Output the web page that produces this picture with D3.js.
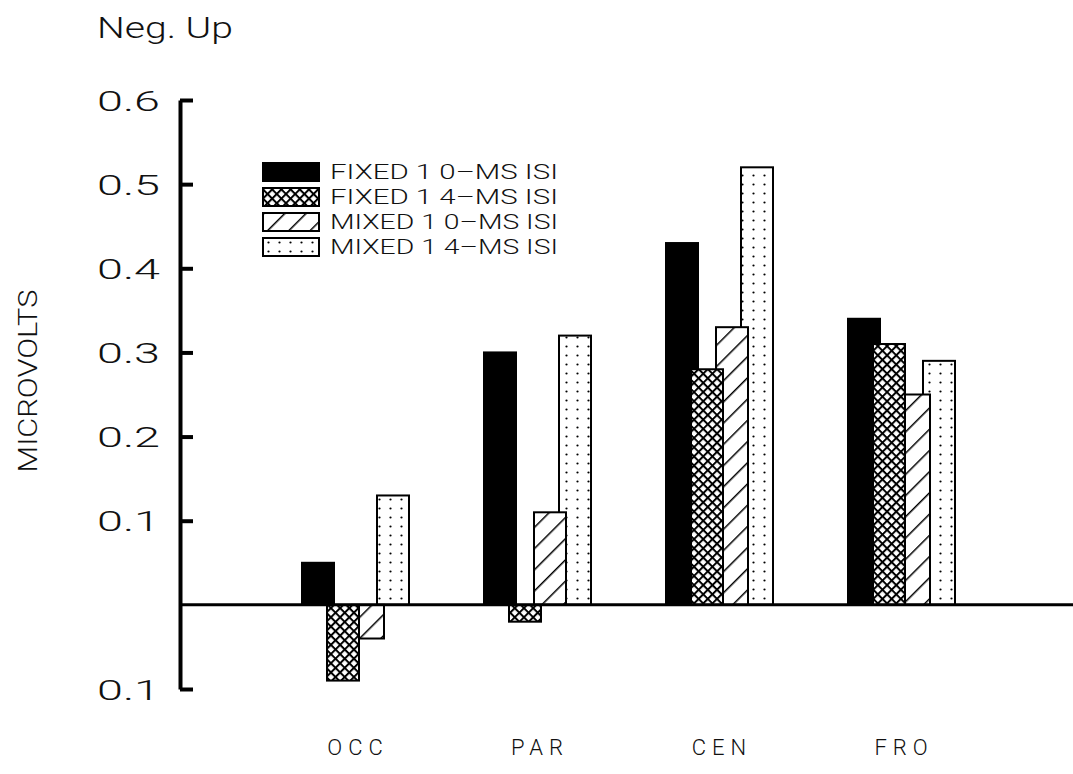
<!DOCTYPE html>
<html>
<head>
<meta charset="utf-8">
<script src="https://cdn.jsdelivr.net/npm/d3@7"></script>
<style>
  body { margin: 0; background: #fff; }
  svg text { font-family: Roboto, "Liberation Sans", Arial, sans-serif; font-weight: 300; fill: #111; }
  .yaxis path, .yaxis line { stroke-width: 4px; }
</style>
</head>
<body>
<div id="chart"></div>
<script>
// data
var categories = ["OCC", "PAR", "CEN", "FRO"];
var seriesNames = ["FIXED 1 0\u2013MS ISI", "FIXED 1 4\u2013MS ISI", "MIXED 1 0\u2013MS ISI", "MIXED 1 4\u2013MS ISI"];
var fixed10 = [0.05, 0.30, 0.43, 0.34];
var fixed14 = [-0.09, -0.02, 0.28, 0.31];
var mixed10 = [-0.04, 0.11, 0.33, 0.25];
var mixed14 = [0.13, 0.32, 0.52, 0.29];
var yTicks = [-0.1, 0.1, 0.2, 0.3, 0.4, 0.5, 0.6];
var yTickLabels = ["0.1", "0.1", "0.2", "0.3", "0.4", "0.5", "0.6"];

var width = 1073, height = 774;
var series = [fixed10, fixed14, mixed10, mixed14];
var fills = ["#000", "url(#xhatch)", "url(#hatch)", "url(#dots)"];

var svg = d3.select("#chart").append("svg")
  .attr("width", width)
  .attr("height", height);

// patterns
var defs = svg.append("defs");
var px = defs.append("pattern").attr("id", "xhatch")
  .attr("patternUnits", "userSpaceOnUse")
  .attr("width", 6.5).attr("height", 6.5)
  .attr("patternTransform", "rotate(45)");
px.append("rect").attr("width", 6.5).attr("height", 6.5).attr("fill", "#fff");
px.append("rect").attr("width", 6.5).attr("height", 2).attr("fill", "#000");
px.append("rect").attr("width", 2).attr("height", 6.5).attr("fill", "#000");

var ph = defs.append("pattern").attr("id", "hatch")
  .attr("patternUnits", "userSpaceOnUse")
  .attr("width", 15).attr("height", 15)
  .attr("patternTransform", "rotate(45)");
ph.append("rect").attr("width", 15).attr("height", 15).attr("fill", "#fff");
ph.append("rect").attr("width", 1.5).attr("height", 15).attr("fill", "#000");

var pd = defs.append("pattern").attr("id", "dots")
  .attr("patternUnits", "userSpaceOnUse")
  .attr("width", 11).attr("height", 9);
pd.append("rect").attr("width", 11).attr("height", 9).attr("fill", "#fff");
pd.append("circle").attr("cx", 5.5).attr("cy", 4.5).attr("r", 1.1).attr("fill", "#000");

// scales
var y = d3.scaleLinear().domain([-0.1, 0.6]).range([689, 100]);
var x = d3.scaleBand().domain(categories).range([264, 992]);
var inner = d3.scaleBand().domain(d3.range(series.length)).range([-53, 47]);
var barW = inner.bandwidth() + 7;

// bars (crosshatch ends up on top, as in the print)
var order = [3, 2, 0, 1];
order.forEach(function (s) {
  svg.append("g").selectAll("rect")
    .data(series[s])
    .enter().append("rect")
    .attr("x", function (d, i) { return x(categories[i]) + x.bandwidth() / 2 + inner(s); })
    .attr("y", function (d) { return y(Math.max(0, d)); })
    .attr("width", barW)
    .attr("height", function (d) { return Math.abs(y(d) - y(0)); })
    .attr("fill", fills[s])
    .attr("stroke", "#000")
    .attr("stroke-width", 2);
});

// zero line
svg.append("line")
  .attr("x1", 180).attr("x2", width)
  .attr("y1", y(0)).attr("y2", y(0))
  .attr("stroke", "#000").attr("stroke-width", 3);

// y axis, ticks pointing right
var yAxis = d3.axisLeft(y)
  .tickValues(yTicks)
  .tickSizeInner(-13)
  .tickSizeOuter(0)
  .tickPadding(20)
  .tickFormat(function (d, i) { return yTickLabels[i]; });

var ga = svg.append("g").attr("class", "yaxis").attr("transform", "translate(180,0)").call(yAxis);
ga.selectAll(".tick text")
  .style("font-size", "28px")
  .style("font-family", "Roboto, 'Liberation Sans', Arial, sans-serif")
  .style("font-weight", 300)
  .attr("fill", function (d) { return d < 0 ? "#888" : "#111"; })
  .attr("textLength", 63)
  .attr("lengthAdjust", "spacingAndGlyphs")
  .attr("dy", "0.36em");

// category labels
svg.append("g").selectAll("text")
  .data(categories)
  .enter().append("text")
  .attr("x", function (d) { return x(d) + x.bandwidth() / 2 + 3; })
  .attr("y", 755)
  .attr("text-anchor", "middle")
  .attr("font-size", 22)
  .attr("letter-spacing", 6)
  .attr("fill", "#333")
  .text(function (d) { return d; });

// titles
svg.append("text")
  .attr("x", 97).attr("y", 38)
  .attr("font-size", 29)
  .attr("textLength", 136)
  .attr("lengthAdjust", "spacingAndGlyphs")
  .attr("fill", "#333")
  .text("Neg. Up");

svg.append("text")
  .attr("transform", "translate(37,381) rotate(-90)")
  .attr("text-anchor", "middle")
  .attr("font-size", 26)
  .attr("textLength", 183)
  .attr("lengthAdjust", "spacingAndGlyphs")
  .attr("fill", "#222")
  .text("MICROVOLTS");

// legend
var legend = svg.append("g").attr("transform", "translate(263,163)");
var rows = legend.selectAll("g")
  .data(seriesNames)
  .enter().append("g")
  .attr("transform", function (d, i) { return "translate(0," + (i * 25) + ")"; });
rows.append("rect")
  .attr("width", 56).attr("height", 18)
  .attr("fill", function (d, i) { return fills[i]; })
  .attr("stroke", "#000").attr("stroke-width", 2);
rows.append("text")
  .attr("x", 67).attr("y", 16)
  .attr("font-size", 20)
  .attr("textLength", 228)
  .attr("lengthAdjust", "spacingAndGlyphs")
  .text(function (d) { return d; });
</script>
</body>
</html>
